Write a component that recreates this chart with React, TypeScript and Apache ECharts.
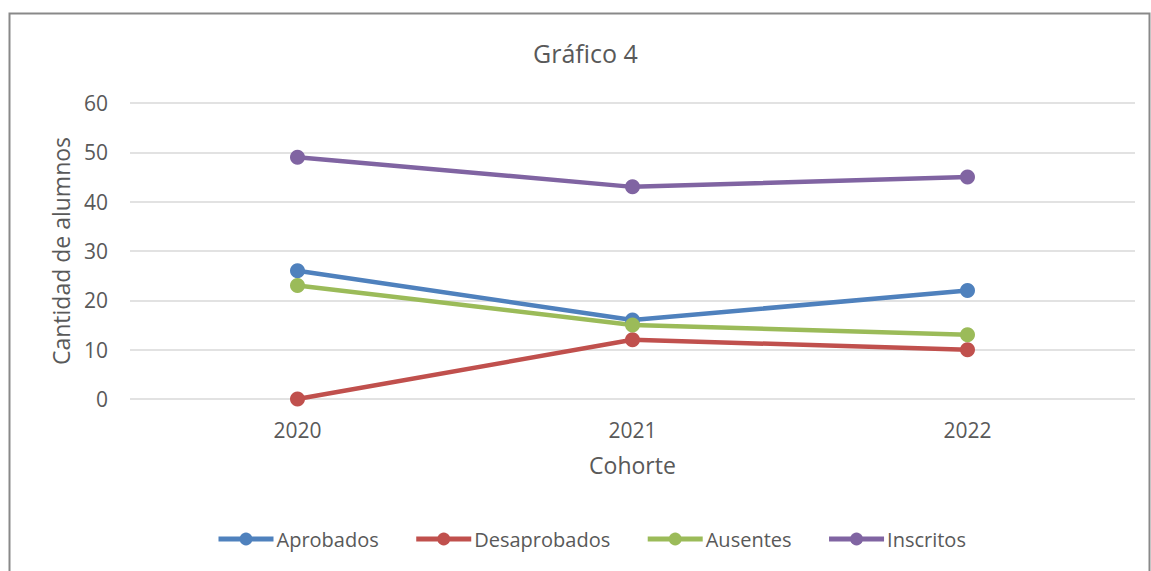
import React, { useEffect, useRef } from "react";
import * as echarts from "echarts";

const categories = ["2020", "2021", "2022"];
const aprobados = [26, 16, 22];
const desaprobados = [0, 12, 10];
const ausentes = [23, 15, 13];
const inscritos = [49, 43, 45];

const seriesNames = ["Aprobados", "Desaprobados", "Ausentes", "Inscritos"];
const seriesColors = ["#4F81BD", "#C0504D", "#9BBB59", "#8064A2"];
const seriesData = [aprobados, desaprobados, ausentes, inscritos];

const FONT = "'Open Sans', sans-serif";

export default function App() {
  const ref = useRef<HTMLDivElement>(null);
  useEffect(() => {
    if (!ref.current) return;
    const chart = echarts.init(ref.current, undefined, { renderer: "svg" });
    chart.setOption({
      animation: false,
      backgroundColor: "#ffffff",
      textStyle: { fontFamily: FONT },
      title: {
        text: "Gráfico 4",
        left: 528,
        top: 35,
        textStyle: { fontFamily: FONT, fontSize: 25, fontWeight: "normal", color: "#595959" },
      },
      graphic: [
        {
          type: "rect",
          shape: { x: 9.5, y: 13.5, width: 1140, height: 600 },
          style: { fill: "none", stroke: "#898989", lineWidth: 2 },
          silent: true,
        },
      ],
      legend: {
        bottom: 17,
        left: 211,
        itemWidth: 55,
        itemHeight: 16,
        itemGap: 35,
        lineStyle: { width: 5 },
        textStyle: { fontFamily: FONT, fontSize: 20, color: "#595959", padding: [0, 0, 0, -2] },
        data: seriesNames,
      },
      grid: { left: 130, right: 16, top: 103, bottom: 172 },
      xAxis: {
        type: "category",
        data: categories,
        boundaryGap: true,
        name: "Cohorte",
        nameLocation: "middle",
        nameGap: 54,
        nameTextStyle: { fontFamily: FONT, fontSize: 23, color: "#595959" },
        axisLine: { show: false },
        axisTick: { show: false },
        axisLabel: { fontFamily: FONT, fontSize: 21, color: "#595959", margin: 20 },
      },
      yAxis: {
        type: "value",
        min: 0,
        max: 60,
        interval: 10,
        name: "Cantidad de alumnos",
        nameLocation: "middle",
        nameGap: 58,
        nameTextStyle: { fontFamily: FONT, fontSize: 23, color: "#595959" },
        axisLine: { show: false },
        axisTick: { show: false },
        axisLabel: { fontFamily: FONT, fontSize: 21, color: "#595959", margin: 22 },
        splitLine: { lineStyle: { color: "#D9D9D9", width: 1.5 } },
      },
      series: seriesNames.map((name, i) => ({
        name,
        type: "line",
        data: seriesData[i],
        symbol: "circle",
        symbolSize: 15,
        color: seriesColors[i],
        lineStyle: { width: 4.5, color: seriesColors[i] },
        itemStyle: { color: seriesColors[i] },
      })),
    });
    return () => chart.dispose();
  }, []);
  return (
    <div
      ref={ref}
      style={{ position: "absolute", left: 0, top: 0, width: 1151, height: 571 }}
    />
  );
}
